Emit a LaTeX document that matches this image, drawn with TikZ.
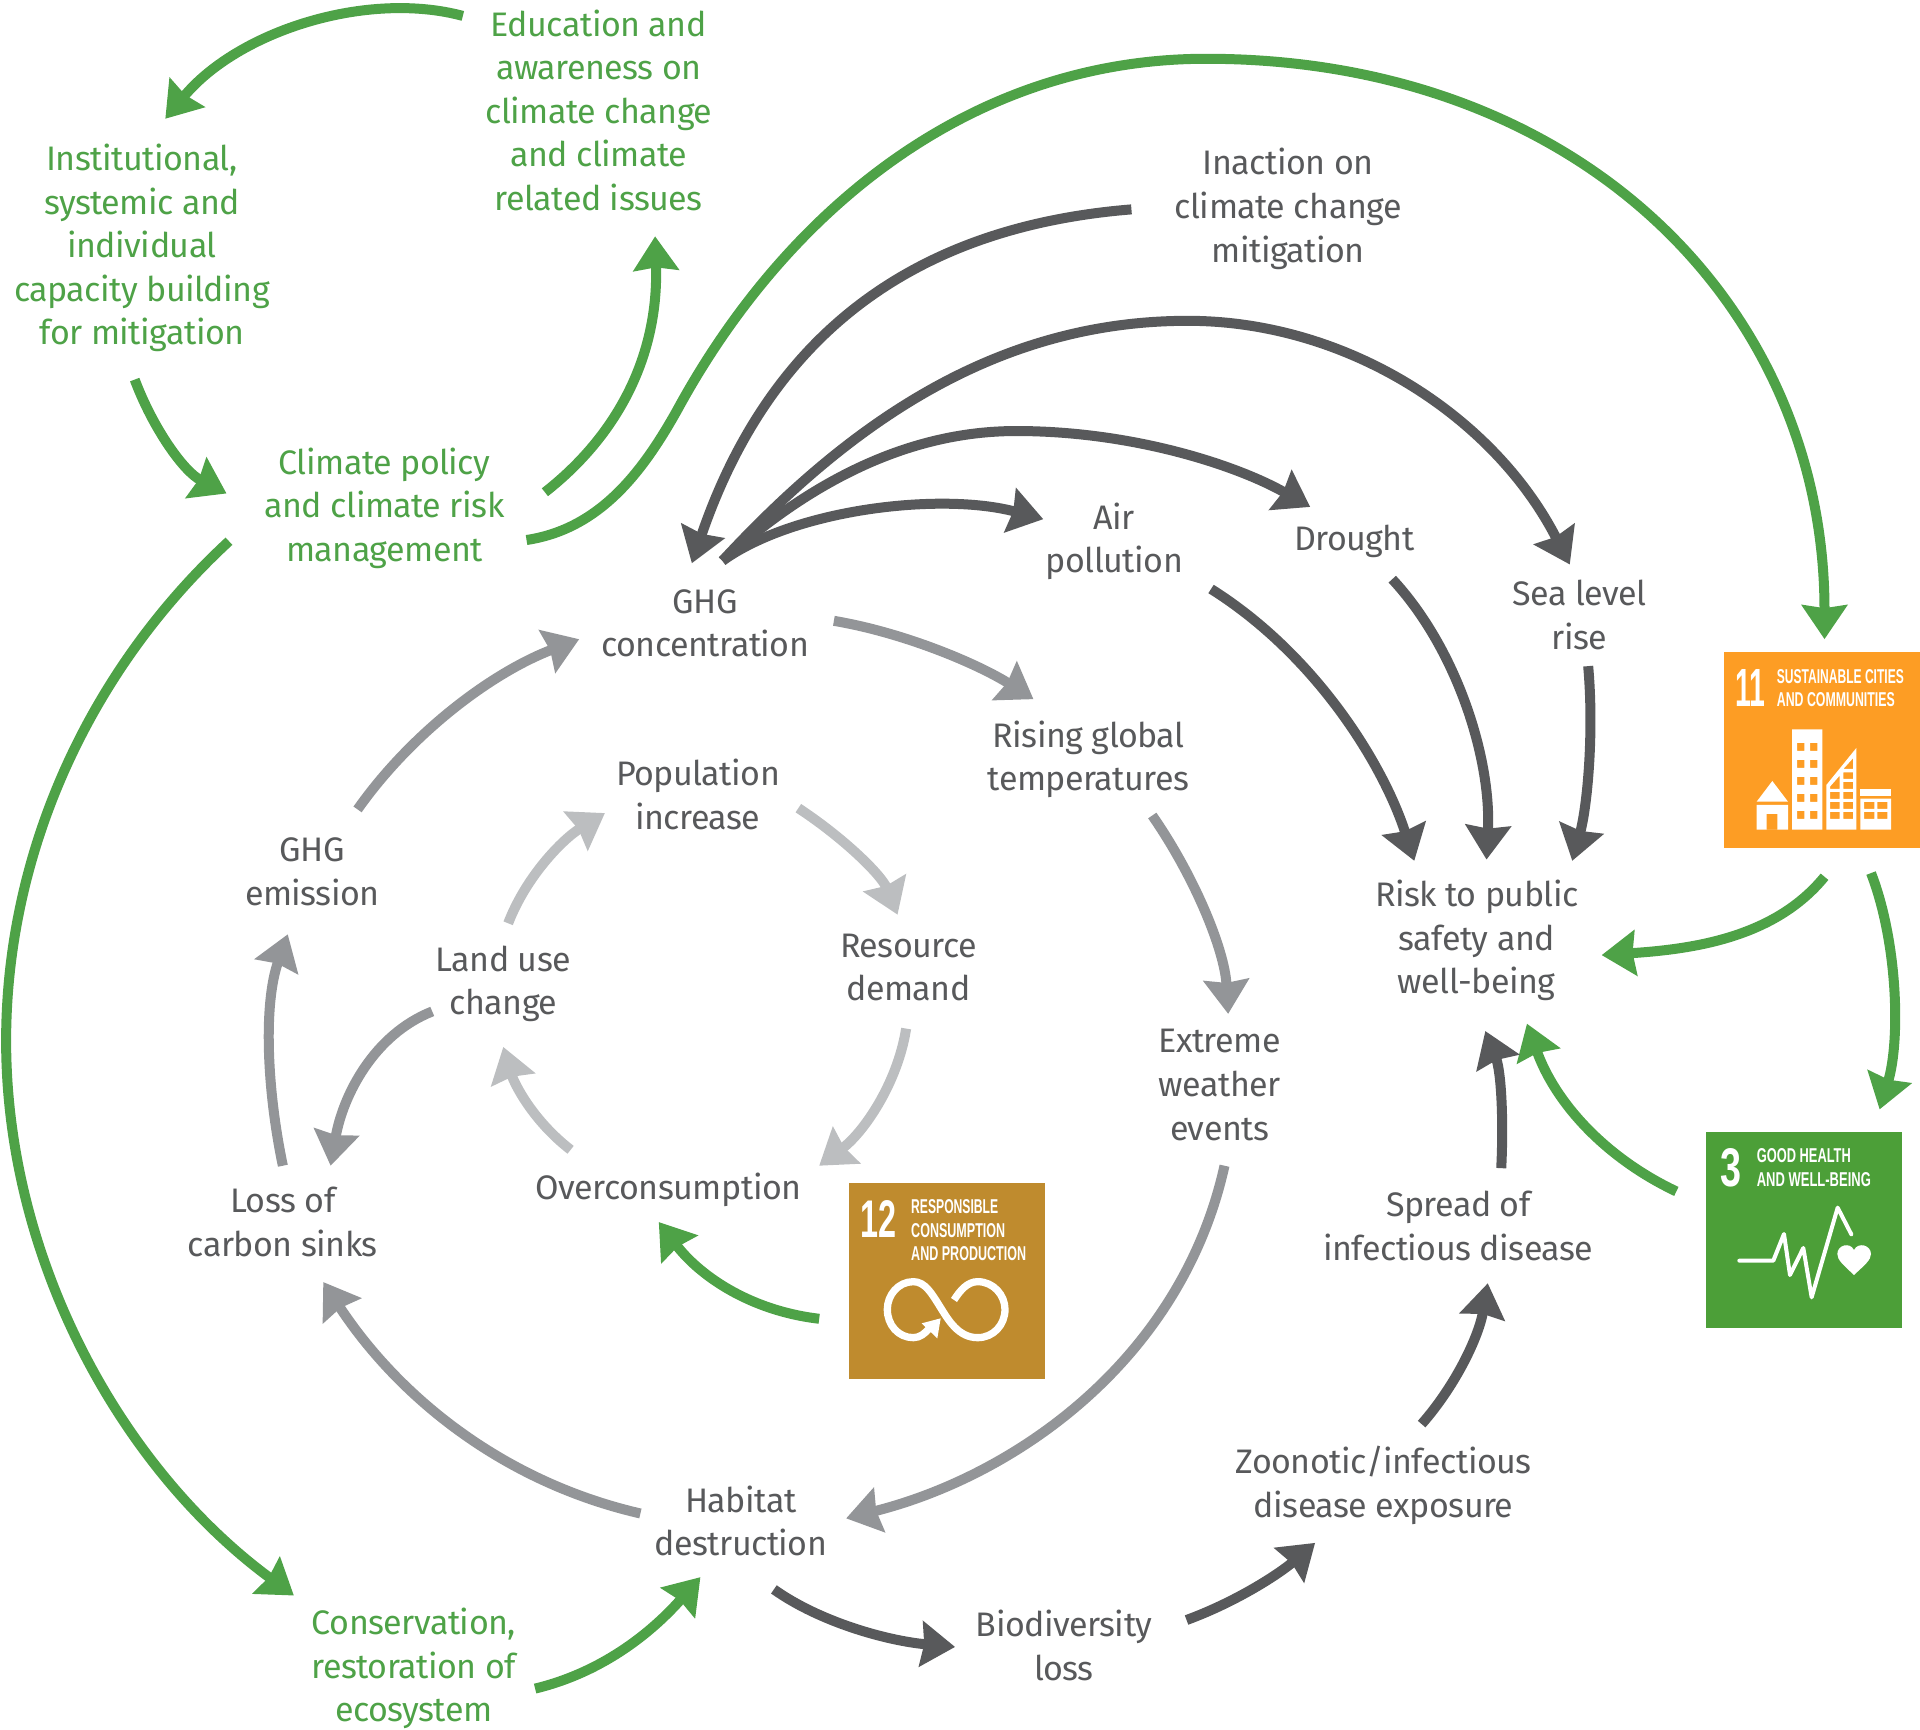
\documentclass[tikz,border=0pt]{standalone}
\usepackage{fontspec}
\usepackage{graphicx}
\setmainfont[LetterSpace=-1.5]{Fira Sans}
\newfontfamily\sdgf{Liberation Sans}
\usetikzlibrary{arrows.meta}
\definecolor{txtgray}{HTML}{58595B}
\definecolor{txtgreen}{HTML}{4EA247}
\definecolor{arrdark}{HTML}{58595B}
\definecolor{arrmid}{HTML}{939598}
\definecolor{arrlight}{HTML}{BCBEC0}
\definecolor{arrgreen}{HTML}{4EA247}
\definecolor{sdgorange}{HTML}{FD9D24}
\definecolor{sdggreen}{HTML}{4C9F38}
\definecolor{sdggold}{HTML}{BF8B2E}
\tikzset{
  lbl/.style={align=center,inner sep=0pt,text=txtgray,font=\fontsize{34}{43.6}\selectfont},
  grn/.style={lbl,text=txtgreen},
  arr/.style={line width=10pt,-{Stealth[length=34pt,width=45pt,inset=3pt]}},
  arrd/.style={arr,draw=arrdark,color=arrdark},
  arrm/.style={arr,draw=arrmid,color=arrmid},
  arrl/.style={arr,draw=arrlight,color=arrlight},
  arrg/.style={arr,draw=arrgreen,color=arrgreen},
  sdgbox/.style={inner sep=0pt,minimum width=196pt,minimum height=196pt},
  sdgtext/.style={anchor=west,inner sep=0pt,text=white},
}
\begin{document}
\begin{tikzpicture}[x=1.22449pt,y=-1.22449pt]
\useasboundingbox (0,0) rectangle (1568,1412.8);
% text nodes
\node[grn] (edu) at (489,90) {Education and\\awareness on\\climate change\\and climate\\related issues};
\node[grn] (inst) at (116,202.5) {Institutional,\\systemic and\\individual\\capacity building\\for mitigation};
\node[lbl] (inact) at (1052,170.5) {Inaction on\\climate change\\mitigation};
\node[grn] (pol) at (314,415) {Climate policy\\and climate risk\\management};
\node[lbl] (air) at (910,442) {Air\\pollution};
\node[lbl] (dro) at (1106,442) {Drought};
\node[lbl] (sea) at (1290,502) {Sea level\\rise};
\node[lbl] (ghg) at (576,509) {GHG\\concentration};
\node[lbl] (ris) at (889,620) {Rising global\\temperatures};
\node[lbl] (pop) at (570,649) {Population\\increase};
\node[lbl] (emi) at (255,712) {GHG\\emission};
\node[lbl] (risk) at (1206,768) {Risk to public\\safety and\\well-being};
\node[lbl] (lan) at (411,803.5) {Land use\\change};
\node[lbl] (res) at (742,790) {Resource\\demand};
\node[lbl] (ext) at (996,886) {Extreme\\weather\\events};
\node[lbl] (ove) at (546,972) {Overconsumption};
\node[lbl] (los) at (231,998) {Loss of\\carbon sinks};
\node[lbl] (spr) at (1191,1001) {Spread of\\infectious disease};
\node[lbl] (zoo) at (1130,1213) {Zoonotic/infectious\\disease exposure};
\node[lbl] (hab) at (605,1242) {Habitat\\destruction};
\node[lbl] (bio) at (869,1344) {Biodiversity\\loss};
\node[grn] (con) at (338,1362.5) {Conservation,\\restoration of\\ecosystem};
% SDG boxes
\node[sdgbox,fill=sdgorange] (s11) at (1488,612.5) {};
\node[sdgbox,fill=sdggreen] (s3) at (1473,1004.2) {};
\node[sdgbox,fill=sdggold] (s12) at (773.5,1046) {};
% SDG 11
\begin{scope}[x=0.33333pt,y=-0.33333pt,shift={(5040,1860)}]
\node[sdgtext] (s11n) at (165,204) {\resizebox{30pt}{37pt}{\sdgf\bfseries 11}};
\node[sdgtext] (s11a) at (290,169) {\resizebox{127pt}{14pt}{\sdgf\bfseries SUSTAINABLE CITIES}};
\node[sdgtext] (s11b) at (290,239) {\resizebox{118pt}{14pt}{\sdgf\bfseries AND COMMUNITIES}};
\fill[white] (230,545)--(277,483)--(324,545)--cycle;
\fill[white,even odd rule] (230,555) rectangle (324,629) (260,582) rectangle (292,629);
\fill[white,even odd rule] (336,328) rectangle (427,629)
  (351,369) rectangle (373,393) (390,369) rectangle (412,393)
  (351,420) rectangle (373,444) (390,420) rectangle (412,444)
  (351,471) rectangle (373,495) (390,471) rectangle (412,495)
  (351,522) rectangle (373,546) (390,522) rectangle (412,546)
  (351,573) rectangle (373,597) (390,573) rectangle (412,597);
\fill[white,even odd rule] (439,495)--(529,384)--(529,629)--(439,629)--cycle
  (450,576) rectangle (479,597) (490,576) rectangle (519,597)
  (450,546) rectangle (479,567) (490,546) rectangle (519,567)
  (450,516) rectangle (479,537) (490,516) rectangle (519,537)
  (450,507)--(479,507)--(479,467)--(450,500)--cycle
  (490,486) rectangle (519,507)
  (490,457) rectangle (519,477)
  (490,447)--(519,447)--(519,415)--cycle;
\fill[white] (541,508) rectangle (633,528);
\fill[white,even odd rule] (541,536) rectangle (633,629)
  (552,546) rectangle (583,567) (592,546) rectangle (622,567)
  (552,576) rectangle (583,597) (592,576) rectangle (622,597);
\end{scope}
% SDG 3
\begin{scope}[x=0.33333pt,y=-0.33333pt,shift={(5040,3330)}]
\node[sdgtext] (s3n) at (122,172) {\resizebox{21pt}{38pt}{\sdgf\bfseries 3}};
\node[sdgtext] (s3a) at (230,138) {\resizebox{94pt}{14pt}{\sdgf\bfseries GOOD HEALTH}};
\node[sdgtext] (s3b) at (230,209) {\resizebox{114pt}{14pt}{\sdgf\bfseries AND WELL-BEING}};
\draw[white,line width=4pt,line cap=round,line join=round] (178,452)--(280,452)--(312,372)--(330,495)--(370,414)--(395,562)--(473,293)--(514,373);
\fill[white] (522,495) .. controls (490,465) and (472,450) .. (472,432) .. controls (472,405) and (510,395) .. (522,420) .. controls (534,395) and (573,405) .. (573,432) .. controls (573,450) and (554,465) .. (522,495) -- cycle;
\end{scope}
% SDG 12
\begin{scope}[x=0.33333pt,y=-0.33333pt,shift={(2490,3480)}]
\node[sdgtext] (s12n) at (90,176) {\resizebox{36pt}{37pt}{\sdgf\bfseries 12}};
\node[sdgtext] (s12a) at (243,141) {\resizebox{87pt}{14pt}{\sdgf\bfseries RESPONSIBLE}};
\node[sdgtext] (s12b) at (243,211) {\resizebox{94pt}{14pt}{\sdgf\bfseries CONSUMPTION}};
\node[sdgtext] (s12c) at (243,281) {\resizebox{115pt}{14pt}{\sdgf\bfseries AND PRODUCTION}};
\draw[white,line width=7.3pt] (372,420) .. controls (390,392) and (412,365) .. (443,365) .. controls (490,365) and (525,405) .. (525,448) .. controls (525,495) and (490,533) .. (443,533) .. controls (385,533) and (355,480) .. (330,440) .. controls (305,400) and (285,365) .. (250,365) .. controls (205,365) and (172,405) .. (172,448) .. controls (172,495) and (205,533) .. (250,533) .. controls (270,533) and (285,520) .. (298,505);
\fill[white] (332,475)--(275,490)--(322,535)--cycle;
\end{scope}
% green connectors
\draw[arrg] ([shift={(378-489,13-90)}]edu.center) .. controls (300,-8) and (195,25) .. ([shift={(135-116,97-202.5)}]inst.center);
\draw[arrg] ([shift={(110-116,310-202.5)}]inst.center) .. controls (125,350) and (150,385) .. ([shift={(185-314,403-415)}]pol.center);
\draw[arrg] ([shift={(445-314,402-415)}]pol.center) .. controls (505,355) and (538,290) .. ([shift={(535-489,193-90)}]edu.center);
\draw[arrg] ([shift={(430-314,441-415)}]pol.center) .. controls (490,432) and (525,385) .. (553,335) .. controls (640,175) and (790,48) .. (985,48) .. controls (1290,48) and (1490,250) .. ([shift={(1490-1488,522-612.5)}]s11.center);
\draw[arrg] ([shift={(187-314,442-415)}]pol.center) .. controls (70,550) and (5,700) .. (5,850) .. controls (5,1030) and (100,1200) .. ([shift={(240-338,1303-1362.5)}]con.center);
\draw[arrg] ([shift={(437-338,1379-1362.5)}]con.center) .. controls (495,1365) and (535,1330) .. ([shift={(572-605,1288-1242)}]hab.center);
\draw[arrg] ([shift={(1490-1488,716-612.5)}]s11.center) .. controls (1450,765) and (1385,775) .. ([shift={(1308-1206,780-768)}]risk.center);
\draw[arrg] ([shift={(1528-1488,713-612.5)}]s11.center) .. controls (1550,770) and (1552,850) .. ([shift={(1535-1473,906-1004.2)}]s3.center);
\draw[arrg] ([shift={(1369-1473,973-1004.2)}]s3.center) .. controls (1310,945) and (1270,900) .. ([shift={(1247-1206,836-768)}]risk.center);
\draw[arrg] ([shift={(669-773.5,1077-1046)}]s12.center) .. controls (610,1070) and (570,1040) .. ([shift={(538-546,998-972)}]ove.center);
% dark connectors
\draw[arrd] ([shift={(924-1052,171-170.5)}]inact.center) .. controls (750,185) and (630,270) .. ([shift={(565-576,460-509)}]ghg.center);
\draw[arrd] ([shift={(590-576,458-509)}]ghg.center) .. controls (650,415) and (770,402) .. ([shift={(852-910,424-442)}]air.center);
\draw[arrd] ([shift={(590-576,458-509)}]ghg.center) .. controls (660,395) and (740,352) .. (830,352) .. controls (925,352) and (1010,380) .. ([shift={(1070-1106,414-442)}]dro.center);
\draw[arrd] ([shift={(590-576,458-509)}]ghg.center) .. controls (690,350) and (810,262) .. (970,262) .. controls (1100,262) and (1220,340) .. ([shift={(1282-1290,461-502)}]sea.center);
\draw[arrd] ([shift={(989-910,481-442)}]air.center) .. controls (1075,535) and (1130,625) .. ([shift={(1155-1206,703-768)}]risk.center);
\draw[arrd] ([shift={(1137-1106,473-442)}]dro.center) .. controls (1190,530) and (1218,620) .. ([shift={(1214-1206,702-768)}]risk.center);
\draw[arrd] ([shift={(1297-1290,544-502)}]sea.center) .. controls (1302,600) and (1296,660) .. ([shift={(1284-1206,703-768)}]risk.center);
\draw[arrd] ([shift={(1226-1191,954-1001)}]spr.center) .. controls (1228,915) and (1226,875) .. ([shift={(1213-1206,842-768)}]risk.center);
\draw[arrd] ([shift={(1161-1130,1163-1213)}]zoo.center) .. controls (1190,1130) and (1208,1090) .. ([shift={(1215-1191,1048-1001)}]spr.center);
\draw[arrd] ([shift={(969-869,1323-1344)}]bio.center) .. controls (1010,1308) and (1045,1285) .. ([shift={(1074-1130,1260-1213)}]zoo.center);
\draw[arrd] ([shift={(632-605,1298-1242)}]hab.center) .. controls (670,1325) and (725,1340) .. ([shift={(780-869,1345-1344)}]bio.center);
% mid connectors
\draw[arrm] ([shift={(681-576,507-509)}]ghg.center) .. controls (740,517) and (800,543) .. ([shift={(844-889,571-620)}]ris.center);
\draw[arrm] ([shift={(941-889,666-620)}]ris.center) .. controls (975,715) and (1000,775) .. ([shift={(1003-996,828-886)}]ext.center);
\draw[arrm] ([shift={(1000-996,952-886)}]ext.center) .. controls (965,1110) and (830,1205) .. ([shift={(691-605,1240-1242)}]hab.center);
\draw[arrm] ([shift={(523-605,1236-1242)}]hab.center) .. controls (410,1210) and (325,1140) .. ([shift={(264-231,1047-998)}]los.center);
\draw[arrm] ([shift={(231-231,952-998)}]los.center) .. controls (218,890) and (215,820) .. ([shift={(235-255,763-712)}]emi.center);
\draw[arrm] ([shift={(292-255,661-712)}]emi.center) .. controls (335,600) and (400,550) .. ([shift={(473-576,522-509)}]ghg.center);
\draw[arrm] ([shift={(353-411,826-803.5)}]lan.center) .. controls (305,845) and (280,895) .. ([shift={(270-231,952-998)}]los.center);
% light connectors
\draw[arrl] ([shift={(415-411,754-803.5)}]lan.center) .. controls (430,715) and (460,685) .. ([shift={(494-570,664-649)}]pop.center);
\draw[arrl] ([shift={(652-570,660-649)}]pop.center) .. controls (690,685) and (720,715) .. ([shift={(733-742,747-790)}]res.center);
\draw[arrl] ([shift={(740-742,840-790)}]res.center) .. controls (733,885) and (705,925) .. ([shift={(669-546,952-972)}]ove.center);
\draw[arrl] ([shift={(466-546,939-972)}]ove.center) .. controls (435,915) and (420,885) .. ([shift={(411-411,855-803.5)}]lan.center);
\end{tikzpicture}
\end{document}
